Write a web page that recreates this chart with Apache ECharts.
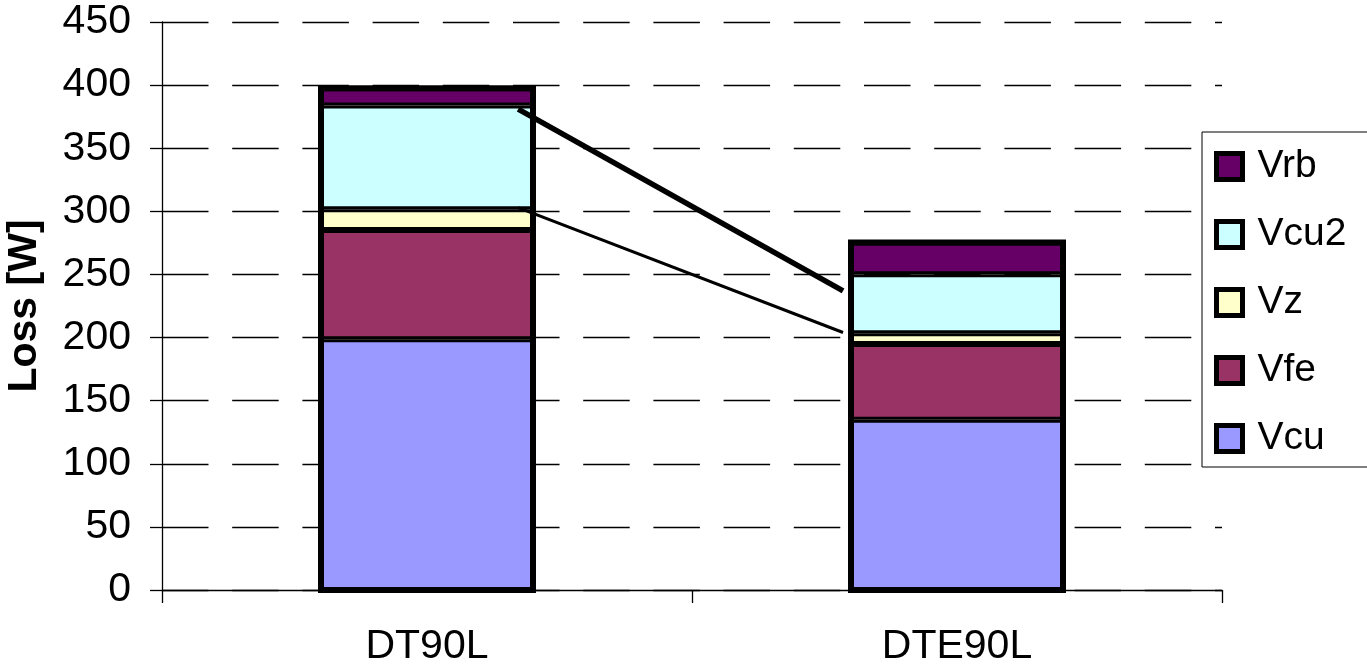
<!DOCTYPE html>
<html><head><meta charset="utf-8">
<script src="https://cdn.jsdelivr.net/npm/echarts@6/dist/echarts.min.js"></script>
<style>html,body{margin:0;padding:0;background:#fff}#c{width:1367px;height:669px}</style>
</head><body><div id="c"></div>
<script>
// ---- data ----
const categories = ['DT90L', 'DTE90L'];
const seriesNames = ['Vcu', 'Vfe', 'Vz', 'Vcu2', 'Vrb'];
const vcu  = [198.6, 134.8];
const vfe  = [86.6, 60.0];
const vz   = [16.4, 8.6];
const vcu2 = [82.3, 46.8];
const vrb  = [13.6, 25.1];
const yMin = 0, yMax = 450, yInterval = 50;
// hand-drawn connector lines: value at DT90L side, value at DTE90L side
const thickConnector = [381, 237];
const thinConnector  = [303, 204];

// ---- styles ----
const colors = { Vcu: '#9999FF', Vfe: '#993366', Vz: '#FFFFCC', Vcu2: '#CCFFFF', Vrb: '#660066' };
const FONT = "'Liberation Sans', Arial, sans-serif";
const FS = 41;
const BAR_W = 212;
const startOff = 0.172, endOff = 0.215; // fraction of category band

const values = { Vcu: vcu, Vfe: vfe, Vz: vz, Vcu2: vcu2, Vrb: vrb };
const totals = categories.map((_, i) => seriesNames.reduce((s, n) => s + values[n][i], 0));

const series = seriesNames.map(n => ({
  name: n, type: 'bar', stack: 'total', barWidth: BAR_W,
  data: values[n],
  itemStyle: { color: colors[n], borderColor: '#000', borderWidth: 3 },
  emphasis: { disabled: true }, z: 2
}));
// thick outer outline of each stacked column (stroke centred on the column edge)
series.push({
  name: 'outline', type: 'custom', silent: true, z: 3,
  data: totals.map((t, i) => [i, t]),
  encode: { x: 0, y: 1 },
  renderItem: function (params, api) {
    const top = api.coord([api.value(0), api.value(1)]);
    const base = api.coord([api.value(0), 0]);
    return {
      type: 'rect',
      shape: { x: top[0] - BAR_W / 2, y: top[1], width: BAR_W, height: base[1] - top[1] },
      style: { fill: null, stroke: '#000', lineWidth: 6 }
    };
  }
});

const chart = echarts.init(document.getElementById('c'), null, { renderer: 'canvas' });
chart.setOption({
  animation: false,
  backgroundColor: '#fff',
  grid: { left: 162, right: 145, top: 22, bottom: 79, containLabel: false, outerBoundsMode: 'none' },
  xAxis: {
    type: 'category', data: categories, boundaryGap: true,
    axisLine: { show: true, lineStyle: { color: '#000', width: 1.3 } },
    axisTick: { show: true, length: 13, alignWithLabel: false, lineStyle: { color: '#000', width: 1.3 } },
    axisLabel: { color: '#000', fontSize: FS, fontFamily: FONT, margin: 36 },
    splitLine: { show: false }
  },
  yAxis: {
    type: 'value', min: yMin, max: yMax, interval: yInterval,
    name: 'Loss [W]', nameLocation: 'middle', nameGap: 117, nameRotate: 90,
    nameTextStyle: { color: '#000', fontSize: FS, fontWeight: 'bold', fontFamily: FONT },
    axisLine: { show: true, lineStyle: { color: '#000', width: 1.3 } },
    axisTick: { show: true, length: 12, lineStyle: { color: '#000', width: 1.3 } },
    axisLabel: { color: '#000', fontSize: FS, fontFamily: FONT, margin: 31 },
    splitLine: { show: true, lineStyle: { color: '#000', width: 1.3, type: [46.5, 23.7] } }
  },
  legend: {
    orient: 'vertical', left: 1202, top: 132,
    data: ['Vrb', 'Vcu2', 'Vz', 'Vfe', 'Vcu'],
    icon: 'rect', itemWidth: 26, itemHeight: 26, itemGap: 27,
    padding: [14, 80, 8, 12],
    borderColor: '#000', borderWidth: 1, backgroundColor: '#fff',
    itemStyle: { borderColor: '#000', borderWidth: 5 },
    textStyle: { color: '#000', fontSize: 39, fontFamily: FONT, lineHeight: 41, padding: [0, 0, 0, 10] },
    selectedMode: false
  },
  series: series
});

// connector lines positioned through the chart's own scales
function connectorShape(vals) {
  const p0 = chart.convertToPixel({ xAxisIndex: 0, yAxisIndex: 0 }, [categories[0], vals[0]]);
  const p1 = chart.convertToPixel({ xAxisIndex: 0, yAxisIndex: 0 }, [categories[1], vals[1]]);
  const band = chart.convertToPixel({ xAxisIndex: 0 }, categories[1]) - chart.convertToPixel({ xAxisIndex: 0 }, categories[0]);
  return { x1: p0[0] + startOff * band, y1: p0[1], x2: p1[0] - endOff * band, y2: p1[1] };
}
chart.setOption({
  graphic: [
    { type: 'line', shape: connectorShape(thickConnector), style: { stroke: '#000', lineWidth: 5.5 }, z: 100, silent: true },
    { type: 'line', shape: connectorShape(thinConnector), style: { stroke: '#000', lineWidth: 3 }, z: 100, silent: true }
  ]
});
</script>
</body></html>
